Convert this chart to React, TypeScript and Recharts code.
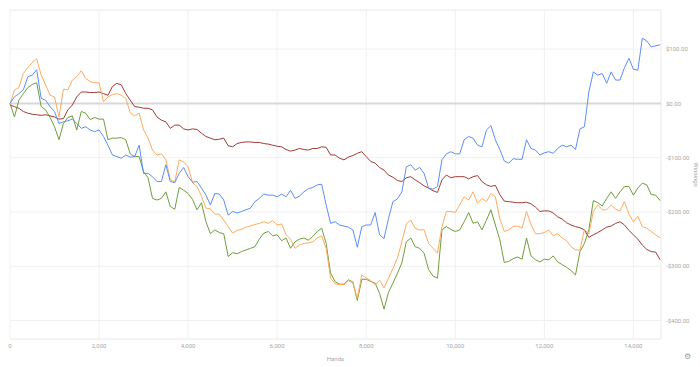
import { LineChart, Line, XAxis, YAxis, CartesianGrid, ReferenceLine, Label } from "recharts"

// hands played (x) and cumulative winnings ($) for each player
const hands = [
  0, 100, 200, 300, 400, 500, 600, 700, 800, 900,
  1000, 1100, 1200, 1300, 1400, 1500, 1600, 1700, 1800, 1900,
  2000, 2100, 2200, 2300, 2400, 2500, 2600, 2700, 2800, 2900,
  3000, 3100, 3200, 3300, 3400, 3500, 3600, 3700, 3800, 3900,
  4000, 4100, 4200, 4300, 4400, 4500, 4600, 4700, 4800, 4900,
  5000, 5100, 5200, 5300, 5400, 5500, 5600, 5700, 5800, 5900,
  6000, 6100, 6200, 6300, 6400, 6500, 6600, 6700, 6800, 6900,
  7000, 7100, 7200, 7300, 7400, 7500, 7600, 7700, 7800, 7900,
  8000, 8100, 8200, 8300, 8400, 8500, 8600, 8700, 8800, 8900,
  9000, 9100, 9200, 9300, 9400, 9500, 9600, 9700, 9800, 9900,
  10000, 10100, 10200, 10300, 10400, 10500, 10600, 10700, 10800, 10900,
  11000, 11100, 11200, 11300, 11400, 11500, 11600, 11700, 11800, 11900,
  12000, 12100, 12200, 12300, 12400, 12500, 12600, 12700, 12800, 12900,
  13000, 13100, 13200, 13300, 13400, 13500, 13600, 13700, 13800, 13900,
  14000, 14100, 14200, 14300, 14400, 14500, 14600,
]

const blue = [
  0, 12, 18, 25, 49, 52, 62, 9, 6, -6,
  -15, -37, -34, -32, -29, -37, -46, -43, -49, -52,
  -49, -61, -77, -95, -98, -101, -95, -99, -98, -77,
  -129, -129, -135, -144, -144, -113, -144, -146, -129, -118,
  -135, -145, -144, -156, -169, -187, -166, -167, -178, -206,
  -199, -202, -199, -196, -193, -181, -175, -167, -169, -169,
  -172, -167, -172, -160, -175, -171, -163, -157, -155, -150,
  -149, -187, -221, -218, -224, -226, -228, -233, -265, -227,
  -224, -224, -201, -242, -249, -212, -181, -176, -163, -117,
  -113, -123, -118, -129, -156, -158, -153, -104, -93, -89,
  -93, -93, -67, -61, -64, -77, -80, -49, -41, -67,
  -85, -106, -110, -102, -103, -103, -67, -83, -86, -95,
  -91, -89, -92, -83, -77, -80, -77, -85, -47, -43,
  21, 58, 52, 55, 37, 58, 43, 43, 66, 83,
  63, 61, 120, 115, 104, 106, 108,
]

const orange = [
  -2, 25, 29, 55, 66, 75, 82, 52, 34, 15,
  12, -25, 26, 25, 43, 49, 60, 46, 40, 38,
  38, 3, 12, 16, 18, 15, 9, -17, -23, -18,
  -49, -64, -86, -95, -93, -104, -140, -145, -104, -108,
  -117, -146, -153, -171, -193, -194, -204, -204, -215, -227,
  -239, -234, -232, -228, -226, -223, -221, -218, -221, -216,
  -224, -222, -242, -250, -267, -261, -258, -257, -255, -248,
  -244, -267, -322, -332, -334, -334, -326, -331, -359, -316,
  -322, -326, -334, -326, -340, -322, -304, -285, -255, -222,
  -215, -230, -233, -233, -258, -267, -276, -227, -199, -199,
  -201, -187, -172, -178, -163, -184, -175, -181, -166, -172,
  -212, -236, -233, -227, -226, -230, -199, -223, -240, -240,
  -238, -233, -244, -240, -248, -253, -264, -270, -270, -232,
  -240, -199, -187, -196, -196, -187, -195, -198, -181, -204,
  -218, -208, -227, -230, -236, -242, -248,
]

const green = [
  0, -25, 6, 18, 29, 35, 38, -6, -12, -26,
  -43, -67, -37, -26, -23, -49, -15, -18, -30, -26,
  -29, -29, -67, -64, -64, -63, -67, -93, -98, -98,
  -126, -137, -175, -178, -175, -163, -190, -195, -155, -160,
  -166, -177, -196, -183, -218, -240, -233, -238, -240, -282,
  -275, -277, -273, -270, -267, -264, -250, -239, -236, -244,
  -242, -253, -248, -267, -255, -250, -248, -252, -245, -236,
  -230, -258, -313, -328, -333, -333, -325, -329, -363, -324,
  -324, -328, -331, -350, -379, -348, -331, -313, -294, -255,
  -248, -264, -267, -276, -306, -318, -322, -233, -227, -232,
  -236, -233, -218, -201, -221, -218, -233, -215, -196, -224,
  -251, -293, -291, -286, -283, -287, -248, -281, -288, -292,
  -287, -288, -281, -292, -297, -302, -308, -316, -273, -258,
  -233, -179, -183, -189, -175, -163, -175, -163, -153, -153,
  -169, -156, -147, -150, -168, -169, -179,
]

const red = [
  -3, -6, -9, -15, -18, -20, -21, -22, -21, -23,
  -25, -29, -28, -12, -3, 12, 21, 21, 20, 20,
  21, 18, 15, 31, 37, 34, 18, 6, -6, -7,
  -9, -9, -12, -25, -31, -34, -46, -40, -40, -47,
  -49, -47, -48, -55, -61, -64, -67, -66, -64, -78,
  -80, -74, -72, -71, -71, -72, -72, -74, -75, -77,
  -79, -80, -85, -88, -86, -83, -85, -86, -83, -83,
  -80, -81, -95, -95, -101, -104, -99, -96, -92, -89,
  -98, -107, -110, -118, -123, -132, -136, -142, -144, -137,
  -135, -141, -146, -152, -156, -161, -164, -141, -132, -137,
  -135, -135, -135, -139, -135, -133, -144, -150, -153, -151,
  -168, -180, -181, -182, -183, -183, -182, -185, -191, -199,
  -198, -198, -202, -209, -213, -220, -224, -227, -229, -233,
  -247, -242, -238, -233, -228, -226, -221, -218, -224, -234,
  -242, -250, -261, -269, -273, -274, -288,
]

const xTicks = [0, 2000, 4000, 6000, 8000, 10000, 12000, 14000]
const yTicks = [-400, -300, -200, -100, 0, 100]
const xMax = 14620
const yMin = -434
const yMax = 172

const data = hands.map((h, i) => ({
  hands: h,
  blue: blue[i],
  orange: orange[i],
  green: green[i],
  red: red[i],
}))

const tickStyle = { fontSize: 6, fill: "#a8a8a8", fontFamily: "Roboto, sans-serif" }

function money(v: number) {
  return v < 0 ? `-$${Math.abs(v).toFixed(2)}` : `$${v.toFixed(2)}`
}

export default function App() {
  return (
    <div style={{ position: "absolute", left: 0, top: 0, width: 700, height: 367, background: "#fff" }}>
      <LineChart width={700} height={367} data={data} margin={{ top: 10, right: 0, bottom: 0, left: 10 }}>
        <CartesianGrid stroke="#f0f0f0" strokeWidth={1} />
        <XAxis
          dataKey="hands"
          type="number"
          domain={[0, xMax]}
          ticks={xTicks}
          tickFormatter={(v: number) => v.toLocaleString("en-US")}
          tick={tickStyle}
          tickLine={false}
          axisLine={false}
          tickSize={0}
          tickMargin={5}
          height={28}
          label={{ value: "Hands", position: "insideBottom", offset: 6, style: tickStyle }}
        />
        <YAxis
          orientation="right"
          type="number"
          domain={[yMin, yMax]}
          ticks={yTicks}
          tickFormatter={money}
          tick={{ ...tickStyle, textAnchor: "start" }}
          tickLine={false}
          axisLine={false}
          tickSize={3}
          tickMargin={2}
          width={39}
        >
          <Label
            content={(props: any) => {
              const vb = props.viewBox
              const x = vb.x + 33
              const y = vb.y + vb.height / 2
              return (
                <text x={x} y={y} transform={`rotate(90, ${x}, ${y})`} textAnchor="middle" style={tickStyle}>
                  Winnings
                </text>
              )
            }}
          />
        </YAxis>
        <ReferenceLine y={yMax} stroke="#f0f0f0" />
        <ReferenceLine y={yMin} stroke="#f0f0f0" />
        <ReferenceLine x={xMax} stroke="#f0f0f0" />
        <ReferenceLine y={0} stroke="#d8d8d8" strokeWidth={2} />
        <Line dataKey="red" stroke="#a33a36" strokeWidth={1} dot={false} isAnimationActive={false} />
        <Line dataKey="green" stroke="#6f9e3c" strokeWidth={1} dot={false} isAnimationActive={false} />
        <Line dataKey="orange" stroke="#ffab5e" strokeWidth={1} dot={false} isAnimationActive={false} />
        <Line dataKey="blue" stroke="#5b8ff9" strokeWidth={1} dot={false} isAnimationActive={false} />
      </LineChart>
      <span style={{ position: "absolute", left: 684, top: 352, fontSize: 8, color: "#9a9a9a", fontFamily: "DejaVu Sans" }}>
        ⚙
      </span>
    </div>
  )
}
